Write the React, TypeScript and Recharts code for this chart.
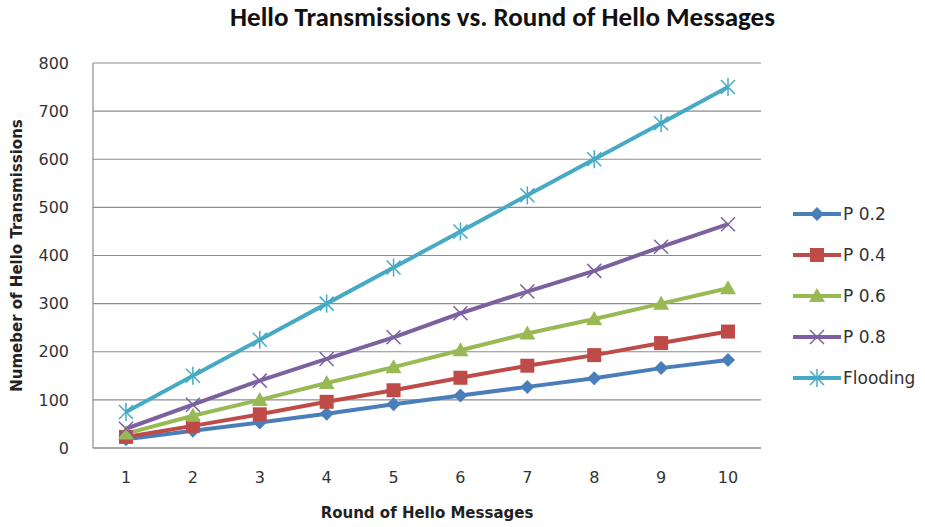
import React from 'react';
import { LineChart, Line, XAxis, YAxis, CartesianGrid, Legend } from 'recharts';

const rounds = ['1', '2', '3', '4', '5', '6', '7', '8', '9', '10'];
const p02 = [18, 36, 53, 71, 91, 109, 127, 145, 166, 183];
const p04 = [23, 46, 70, 96, 120, 146, 171, 193, 218, 242];
const p06 = [30, 67, 100, 135, 168, 203, 238, 268, 300, 332];
const p08 = [40, 90, 140, 185, 230, 280, 325, 368, 418, 465];
const flooding = [75, 150, 225, 300, 375, 450, 525, 600, 675, 750];
const yTicks = [0, 100, 200, 300, 400, 500, 600, 700, 800];

const series = [
  { key: 'p02', name: 'P 0.2', color: '#4a7ebb', shape: 'diamond' },
  { key: 'p04', name: 'P 0.4', color: '#be4b48', shape: 'square' },
  { key: 'p06', name: 'P 0.6', color: '#98b954', shape: 'triangle' },
  { key: 'p08', name: 'P 0.8', color: '#7d60a0', shape: 'x' },
  { key: 'flooding', name: 'Flooding', color: '#46aac5', shape: 'star' },
];

const data = rounds.map((r, i) => ({
  round: r,
  p02: p02[i],
  p04: p04[i],
  p06: p06[i],
  p08: p08[i],
  flooding: flooding[i],
}));

const TITLE_FONT = 'Calibri, Carlito, Lato, sans-serif';
const FONT = '"DejaVu Sans", sans-serif';

const Marker = ({ shape, color, cx, cy }: { shape: string; color: string; cx: number; cy: number }) => {
  if (shape === 'diamond') {
    return <polygon points={`${cx},${cy - 7} ${cx + 7},${cy} ${cx},${cy + 7} ${cx - 7},${cy}`} fill={color} />;
  }
  if (shape === 'square') {
    return <rect x={cx - 7} y={cy - 7} width={14} height={14} fill={color} />;
  }
  if (shape === 'triangle') {
    return <polygon points={`${cx},${cy - 8} ${cx + 8},${cy + 6} ${cx - 8},${cy + 6}`} fill={color} />;
  }
  if (shape === 'x') {
    return (
      <g stroke={color} strokeWidth={1.5}>
        <line x1={cx - 7} y1={cy - 7} x2={cx + 7} y2={cy + 7} />
        <line x1={cx - 7} y1={cy + 7} x2={cx + 7} y2={cy - 7} />
      </g>
    );
  }
  return (
    <g stroke={color} strokeWidth={1.5}>
      <line x1={cx - 7} y1={cy - 7} x2={cx + 7} y2={cy + 7} />
      <line x1={cx - 7} y1={cy + 7} x2={cx + 7} y2={cy - 7} />
      <line x1={cx} y1={cy - 9} x2={cx} y2={cy + 9} />
    </g>
  );
};

const makeDot = (shape: string, color: string) => (props: any) => {
  const { cx, cy, index } = props;
  if (cx == null || cy == null) return <g key={`d-${shape}-${index}`} />;
  return (
    <g key={`d-${shape}-${index}`}>
      <Marker shape={shape} color={color} cx={cx} cy={cy} />
    </g>
  );
};

const renderLegend = () => (
  <div style={{ fontFamily: FONT, fontSize: 17, color: '#333' }}>
    {series.map((s) => (
      <div key={s.key} style={{ display: 'flex', alignItems: 'center', height: 41 }}>
        <svg width={48} height={20} style={{ marginRight: 2 }}>
          <line x1={0} y1={10} x2={48} y2={10} stroke={s.color} strokeWidth={4} />
          <Marker shape={s.shape} color={s.color} cx={24} cy={10} />
        </svg>
        <span>{s.name}</span>
      </div>
    ))}
  </div>
);

export default function App() {
  return (
    <div style={{ position: 'absolute', left: 0, top: 0, width: 925, height: 527, background: '#fff' }}>
      <div
        style={{
          position: 'absolute',
          top: 0,
          left: 0,
          width: 925,
          textAlign: 'center',
          fontFamily: TITLE_FONT,
          fontWeight: 'bold',
          fontSize: 27,
          color: '#111',
          paddingLeft: 80,
          boxSizing: 'border-box',
        }}
      >
        Hello Transmissions vs. Round of Hello Messages
      </div>
      <LineChart width={925} height={527} data={data} margin={{ top: 63, right: 32, bottom: 39, left: 0 }}>
        <CartesianGrid vertical={false} stroke="#8c8c8c" strokeWidth={1.2} />
        <XAxis
          dataKey="round"
          padding={{ left: 33, right: 33 }}
          tickLine={false}
          axisLine={{ stroke: '#8c8c8c', strokeWidth: 1.2 }}
          tick={{ fill: '#333', fontSize: 16, fontFamily: FONT }}
          tickMargin={18}
          height={40}
          label={{
            value: 'Round of Hello Messages',
            position: 'insideBottom',
            offset: -30,
            style: { fontFamily: FONT, fontSize: 15, fontWeight: 'bold', fill: '#222' },
          }}
        />
        <YAxis
          domain={[0, 800]}
          ticks={yTicks}
          width={93}
          tickLine={false}
          axisLine={{ stroke: '#8c8c8c', strokeWidth: 1.2 }}
          tick={{ fill: '#333', fontSize: 16, fontFamily: FONT }}
          tickMargin={18}
          label={{
            value: 'Numeber of Hello Transmissions',
            angle: -90,
            position: 'insideLeft',
            offset: 17,
            style: { textAnchor: 'middle', fontFamily: FONT, fontSize: 15, fontWeight: 'bold', fill: '#222' },
          }}
        />
        <Legend layout="vertical" align="right" verticalAlign="top" wrapperStyle={{ top: 193, right: 0, left: 'auto', width: 132 }} content={renderLegend} />
        {series.map((s) => (
          <Line
            key={s.key}
            type="linear"
            dataKey={s.key}
            name={s.name}
            stroke={s.color}
            strokeWidth={4}
            dot={makeDot(s.shape, s.color)}
            activeDot={false}
            isAnimationActive={false}
          />
        ))}
      </LineChart>
    </div>
  );
}
